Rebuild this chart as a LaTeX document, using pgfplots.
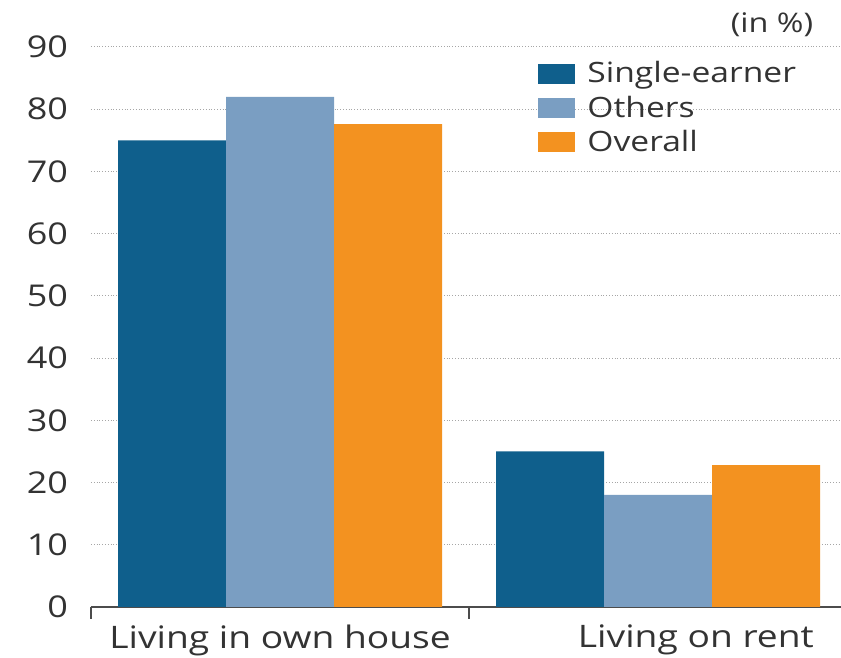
\documentclass[border=0pt]{standalone}
\usepackage{pgfplots}
\pgfplotsset{compat=1.18}
\usepackage{fontspec}
\setmainfont[FakeStretch=1.2]{Open Sans}
\definecolor{single}{HTML}{0F5F8C}
\definecolor{others}{HTML}{7A9EC2}
\definecolor{overall}{HTML}{F39220}
\definecolor{txt}{HTML}{333333}

\begin{document}
\begin{tikzpicture}
\begin{axis}[
  scale only axis, width=375pt, height=280pt,
  xmin=-0.5, xmax=1.484, ymin=0, ymax=90,
  clip=false,
  ybar=0pt, bar width=54pt,
  axis x line*=bottom, axis y line*=left,
  y axis line style={draw=none},
  x axis line style={-, draw=black!70, line width=0.6pt},
  ytick={0,10,...,90},
  ytick style={draw=none},
  /pgf/number format/assume math mode=true,
  ymajorgrids, grid style={densely dotted, gray!70, line width=0.5pt},
  yticklabel style={font=\fontsize{15}{16}\selectfont, text=txt, xshift=-8pt},
  xtick={0,1.1}, xticklabels={Living in own house, Living on rent},
  xtick style={draw=none},
  xticklabel style={font=\fontsize{15.5}{17}\selectfont, text=txt, yshift=-1pt},
  extra x ticks={-0.5,0.5}, extra x tick labels={},
  extra x tick style={xtick style={draw=black!70, line width=0.6pt}, major tick length=6pt, tick align=outside},
  legend image code/.code={\fill[#1] (0pt,-5pt) rectangle (18.5pt,5pt);},
  legend style={at={(rel axis cs:0.596,0.982)}, anchor=north west, draw=none, fill=none,
    font=\fontsize{14}{15}\selectfont, text=txt, row sep=1pt, inner sep=0pt,
    /tikz/every odd column/.append style={column sep=4pt}},
  legend cell align=left,
]
\addplot[fill=single, draw=none] coordinates {(0,75) (1,25)};
\addlegendentry{Single-earner}
\addplot[fill=others, draw=none] coordinates {(0,82) (1,18)};
\addlegendentry{Others}
\addplot[fill=overall, draw=none] coordinates {(0,77.6) (1,22.8)};
\addlegendentry{Overall}
\node[font=\fontsize{13.5}{15}\selectfont, text=txt] at (rel axis cs:0.908,1) [yshift=11pt] {(in \%)};
\coordinate (bl) at (rel axis cs:0,0);
\coordinate (tr) at (rel axis cs:1,1);
\end{axis}
\pgfresetboundingbox
\path ([shift={(-45.5pt,-25.5pt)}]bl) rectangle ([shift={(0pt,23.5pt)}]tr);
\end{tikzpicture}
\end{document}
